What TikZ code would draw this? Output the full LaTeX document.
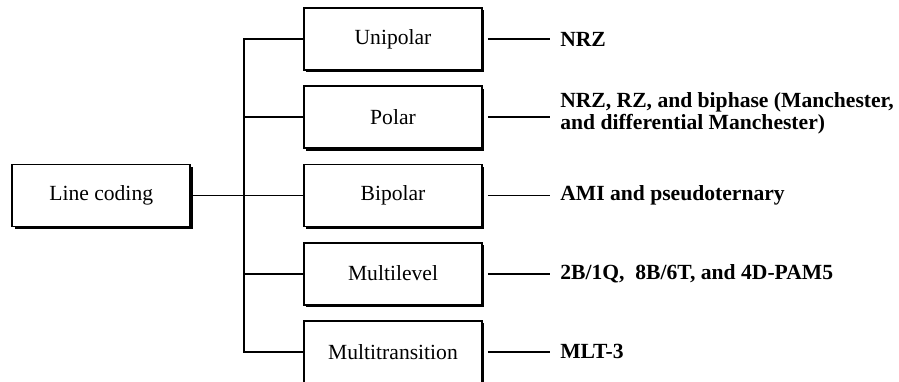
\documentclass[tikz,border=0pt]{standalone}
\usepackage{fontspec}
\setmainfont{Liberation Serif}
\usetikzlibrary{positioning, shadows}

\begin{document}
\begin{tikzpicture}[
    x=0.5pt, y=-0.5pt,
    node distance=7.2pt and 38.5pt,
    box/.style={draw, line width=0.9pt, fill=white, minimum width=89pt, minimum height=31pt, inner sep=2pt,
      font=\fontsize{10.8}{12}\selectfont,
      drop shadow={shadow xshift=1.2pt, shadow yshift=-1.2pt, opacity=1, fill=black}},
    res/.style={anchor=west, inner sep=0pt, align=left, font=\fontsize{10.8}{9.6}\selectfont\bfseries},
    conn/.style={line width=0.9pt},
    rconn/.style={conn, shorten <=2.5pt, shorten >=5pt}
  ]
  \useasboundingbox (0,0) rectangle (899,381);

  % categories
  \node[box] (uni) at (393,39) {Unipolar};
  \node[box, below=of uni] (pol) {Polar};
  \node[box, below=of pol] (bip) {Bipolar};
  \node[box, below=of bip] (mlv) {Multilevel};
  \node[box, below=of mlv] (mtr) {Multitransition};
  \node[box, left=56pt of bip] (lc) {Line coding};

  % examples
  \node[res, right=of uni] (nrz) {NRZ};
  \node[res, right=of pol, yshift=2pt] (polx) {NRZ, RZ, and biphase (Manchester,\\and differential Manchester)};
  \node[res, right=of bip] (ami) {AMI and pseudoternary};
  \node[res, right=of mlv] (pam) {2B/1Q,\ \ 8B/6T, and 4D-PAM5};
  \node[res, right=of mtr] (mlt) {MLT-3};

  % tree
  \draw[conn] (uni.west) -- ++(-29.5pt,0) coordinate (trk) |- (mtr.west);
  \foreach \n in {pol, mlv}
    \draw[conn] (\n.west) -- (\n.west -| trk);
  \draw[conn] (lc) -- (bip);

  \foreach \a/\b in {uni/nrz, pol/polx, bip/ami, mlv/pam, mtr/mlt}
    \draw[rconn] (\a.east) -- (\a.east -| \b.west);
\end{tikzpicture}
\end{document}
